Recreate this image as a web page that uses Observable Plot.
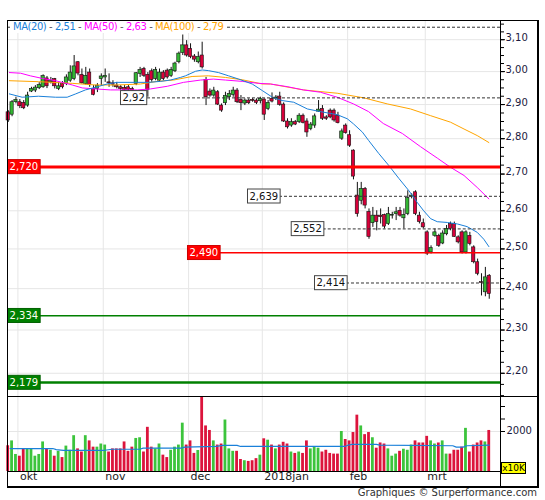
<!DOCTYPE html>
<html><head><meta charset="utf-8">
<script src="https://cdn.jsdelivr.net/npm/d3@7"></script>
<script src="https://cdn.jsdelivr.net/npm/@observablehq/plot@0.6"></script>
<style>
body{margin:0;background:#fff;font-family:"DejaVu Sans",sans-serif;}
#wrap{position:relative;width:545px;height:500px;overflow:hidden;}
#wrap svg{position:absolute;left:0;}
.ln{position:absolute;background:#000;}
#legend{position:absolute;left:12px;top:21px;background:#fff;font-size:10px;line-height:12px;letter-spacing:-0.45px;padding:0 3px 0 1px;white-space:nowrap;}
#caption{position:absolute;right:8px;top:487px;font-size:10px;color:#333;white-space:nowrap;}
#x10k{position:absolute;left:501px;top:462px;width:25px;height:12px;background:#ffff00;border:1px solid #000;box-sizing:border-box;font-size:9px;line-height:10px;text-align:center;color:#000;}
</style></head><body><div id="wrap"></div>
<script>
// ---- data ----
const open = [
2.877,2.870,2.907,2.907,2.905,2.897,2.939,2.942,2.949,2.952,
2.979,2.967,2.977,2.947,2.962,2.962,2.972,2.977,3.029,2.990,
2.962,2.997,2.947,2.947,2.977,2.982,2.967,2.964,2.957,2.952,
2.950,2.952,2.947,2.962,2.993,3.008,2.990,3.001,2.977,2.972,
2.997,3.003,2.987,3.001,3.029,3.058,3.082,3.071,3.047,3.029,
3.050,2.974,2.939,2.927,2.937,2.897,2.904,2.922,2.929,2.942,
2.914,2.903,2.912,2.914,2.912,2.910,2.915,2.887,2.917,2.918,
2.924,2.900,2.850,2.838,2.848,2.848,2.867,2.850,2.828,2.838,
2.879,2.887,2.862,2.882,2.882,2.867,2.800,2.838,2.810,2.766,
2.641,2.627,2.659,2.597,2.567,2.587,2.587,2.589,2.565,2.587,
2.591,2.600,2.580,2.591,2.638,2.650,2.587,2.567,2.543,2.491,
2.534,2.534,2.514,2.538,2.565,2.565,2.530,2.543,2.491,2.534,
2.504,2.466,2.416,2.391,2.432];
const high = [
2.882,2.912,2.922,2.915,2.912,2.937,2.952,2.957,2.966,2.990,
2.985,2.982,2.979,2.967,2.969,2.990,3.018,3.050,3.031,3.008,
3.013,3.008,2.957,2.963,2.993,3.008,2.993,2.972,2.967,2.957,
2.957,2.957,2.952,2.997,3.013,3.013,2.997,3.008,3.013,3.008,
3.003,3.008,3.013,3.029,3.061,3.115,3.097,3.087,3.053,3.061,
3.092,2.982,2.947,2.952,2.942,2.902,2.937,2.942,2.952,2.948,
2.927,2.917,2.917,2.918,2.917,2.922,2.917,2.912,2.935,2.927,
2.937,2.905,2.858,2.858,2.853,2.873,2.872,2.858,2.847,2.872,
2.912,2.897,2.867,2.887,2.887,2.877,2.828,2.843,2.823,2.768,
2.677,2.677,2.663,2.605,2.609,2.600,2.605,2.591,2.609,2.596,
2.609,2.609,2.605,2.654,2.646,2.654,2.596,2.578,2.547,2.508,
2.552,2.538,2.547,2.561,2.570,2.570,2.534,2.547,2.547,2.543,
2.508,2.474,2.437,2.453,2.435];
const low = [
2.847,2.864,2.902,2.888,2.885,2.892,2.936,2.936,2.945,2.949,
2.948,2.962,2.947,2.942,2.947,2.957,2.967,2.972,2.987,2.962,
2.959,2.952,2.926,2.936,2.957,2.967,2.952,2.952,2.947,2.942,
2.937,2.939,2.936,2.957,2.982,2.982,2.922,2.967,2.972,2.967,
2.972,2.977,2.982,2.997,3.024,3.050,3.045,3.040,3.029,3.024,
3.008,2.897,2.922,2.922,2.897,2.877,2.897,2.912,2.922,2.903,
2.882,2.897,2.900,2.907,2.900,2.902,2.853,2.882,2.905,2.912,
2.895,2.847,2.828,2.833,2.838,2.844,2.843,2.804,2.823,2.830,
2.877,2.853,2.853,2.858,2.848,2.843,2.795,2.813,2.775,2.684,
2.583,2.616,2.605,2.525,2.556,2.547,2.565,2.552,2.561,2.578,
2.574,2.583,2.552,2.587,2.632,2.587,2.565,2.552,2.483,2.487,
2.530,2.504,2.511,2.534,2.547,2.530,2.513,2.487,2.487,2.508,
2.462,2.432,2.382,2.380,2.374];
const close = [
2.853,2.907,2.914,2.895,2.889,2.927,2.947,2.951,2.959,2.986,
2.955,2.972,2.955,2.955,2.952,2.982,2.997,3.016,2.994,2.964,
2.987,2.959,2.929,2.957,2.985,2.987,2.964,2.960,2.952,2.947,
2.944,2.944,2.942,2.995,3.005,2.987,2.944,2.974,3.005,2.997,
2.977,2.982,3.005,3.025,3.056,3.082,3.050,3.045,3.037,3.045,
3.013,2.922,2.927,2.942,2.900,2.882,2.926,2.932,2.942,2.907,
2.904,2.912,2.904,2.911,2.905,2.917,2.870,2.905,2.909,2.921,
2.899,2.850,2.833,2.848,2.841,2.867,2.846,2.818,2.841,2.865,
2.885,2.858,2.858,2.862,2.853,2.845,2.821,2.816,2.780,2.693,
2.591,2.659,2.614,2.531,2.587,2.570,2.583,2.558,2.591,2.589,
2.596,2.587,2.589,2.634,2.641,2.591,2.570,2.556,2.488,2.502,
2.543,2.508,2.540,2.552,2.552,2.531,2.517,2.491,2.543,2.513,
2.466,2.437,2.414,2.428,2.387];
const volume = [
1287,1530,852,765,1130,1130,1130,765,852,1478,
1130,1061,765,1009,696,1270,1061,1791,1130,974,
1791,1530,1217,1217,1374,1322,974,1130,1130,1130,
1478,1009,1217,1652,1687,974,2209,1217,1130,1374,
817,696,1061,1217,1322,2417,1322,1530,904,1050,
3740,2278,2052,1530,1322,1374,2574,1130,1009,1009,
600,539,504,539,643,817,1635,1565,1322,1130,
1322,1461,1374,974,904,974,904,1530,1130,1217,
1165,974,1061,904,870,870,2000,1600,1530,1948,
2817,2278,1843,1948,1687,1165,1426,1374,1130,765,
870,1009,1113,1061,1322,1530,1426,1426,1757,1530,
1374,1426,1530,870,870,1061,1061,1217,2157,974,
1322,1426,1530,1478,2052];

const ma20Idx = [0.3,3.6,7.8,12.2,15.2,17.4,19.9,22.5,25.5,28.1,33.3,36.2,39.3,41.8,44.4,45.7,48.3,50.0,51.6,54.2,56.8,59.4,62.9,65.5,68.1,70.6,73.6,77.1,80.5,84.8,87.4,89.0,91.3,92.9,95.5,98.1,100.7,103.3,105.4,107.1,108.9,110.6,113.2,115.8,118.3,120.9,122.6,123.9];
const ma20Val = [2.932,2.922,2.925,2.922,2.922,2.932,2.944,2.952,2.962,2.967,2.967,2.967,2.970,2.974,2.982,2.987,3.001,3.005,3.003,2.997,2.987,2.977,2.962,2.942,2.922,2.912,2.907,2.887,2.879,2.870,2.858,2.843,2.819,2.795,2.758,2.724,2.688,2.654,2.623,2.600,2.579,2.571,2.569,2.565,2.558,2.543,2.525,2.506];
const ma50Idx = [0.3,3.2,5.7,8.8,12.2,16.5,19.1,22.5,26.4,33.3,36.7,41.0,45.2,49.6,52.9,56.0,60.3,64.5,67.6,71.9,76.1,80.5,84.8,89.0,92.9,96.7,101.6,106.3,110.7,114.0,117.5,120.9,123.9];
const ma50Val = [2.997,2.995,2.987,2.979,2.972,2.959,2.950,2.947,2.944,2.944,2.947,2.955,2.967,2.974,2.977,2.974,2.970,2.964,2.962,2.954,2.944,2.937,2.922,2.902,2.879,2.844,2.815,2.777,2.744,2.719,2.696,2.663,2.632];
const ma100Idx = [0.3,7.8,16.5,22.5,28.1,34.1,38.4,42.6,47.4,51.6,56.0,60.3,65.5,67.6,76.1,84.8,91.7,97.7,103.7,108.9,114.0,117.5,120.9,123.9];
const ma100Val = [2.972,2.969,2.964,2.959,2.959,2.962,2.970,2.974,2.985,2.987,2.982,2.975,2.962,2.962,2.944,2.934,2.920,2.902,2.887,2.867,2.848,2.828,2.809,2.789];
const volMaIdx = [0.5,11.5,12.4,14.2,24.9,26.7,33.9,34.8,44.6,45.5,53.6,55.4,59.0,59.9,86.8,87.7,88.6,94.9,95.8,114.6,115.5,117.3,118.2,124.0];
const volMaVal = [1148,1148,1096,1061,1061,1113,1113,1165,1165,1217,1252,1304,1304,1252,1252,1322,1356,1356,1322,1287,1217,1217,1287,1322];

const monthLabels = ["okt","nov","dec","2018jan","feb","mrt"];
const monthStartIdx = [3,25,47,66,88,108];
const yTicks = [2.2,2.3,2.4,2.5,2.6,2.7,2.8,2.9,3.0,3.1];
const volTickLabels = [2000];
const greyLevels = [3.14,2.92,2.639,2.552,2.414];
const greyLabels = ["3,14","2,92","2,639","2,552","2,414"];
const redLevels = [2.720,2.490];
const redLabels = ["2,720","2,490"];
const greenLevels = [2.334,2.179];
const greenLabels = ["2,334","2,179"];
const legendItems = [["MA(20)","2,51","#1a80d9"],["MA(50)","2,63","#ff00ff"],["MA(100)","2,79","#ffa500"]];

// ---- rendering ----
const xMin = -0.18, xMax = 126.9;
const cRed = "#d8003a", cGreen = "#33b633", vRed = "#dc143c", vGreen = "#3cc43c";
const candles = open.map((o,i)=>({i,o,h:high[i],l:low[i],c:close[i],v:volume[i],up:close[i]>=o}));
const pts = (ix,vs)=>ix.map((x,k)=>({x,y:vs[k]}));
const fmt = d=>d.toFixed(2).replace(".",",");
const minorTicks = d3.range(2.15,3.16,0.025);
// label positions (x index where each level label starts)
const greyAt = [xMin, 29.46, 62.2, 73.47, 79.47];
const redAt = [0.34, 46.73];
const greenAt = [0.34, 0.34];

const wrap = document.getElementById("wrap");
const fontStyle = {fontFamily:"DejaVu Sans, sans-serif", fontSize:"10px", background:"transparent", overflow:"visible"};

const main = Plot.plot({
  width:545, height:396, marginTop:20, marginBottom:0, marginLeft:7, marginRight:45,
  style: fontStyle,
  x:{domain:[xMin,xMax], axis:null},
  y:{type:"log", domain:[2.1481,3.1618], axis:null},
  marks:[
    Plot.ruleY(yTicks,{y:d=>d, stroke:"#e6e6e6"}),
    Plot.ruleX(monthStartIdx,{x:d=>d-0.5, stroke:"#e6e6e6"}),
    Plot.ruleX(candles,{x:"i", y1:"l", y2:"h", stroke:"#111", strokeWidth:1}),
    Plot.rect(candles,{x1:d=>d.i-0.42, x2:d=>d.i+0.42, y1:"o", y2:"c", fill:d=>d.up?cGreen:cRed, stroke:"#111", strokeWidth:0.6}),
    Plot.line(pts(ma100Idx,ma100Val),{x:"x",y:"y",stroke:"#ffa500",strokeWidth:1}),
    Plot.line(pts(ma50Idx,ma50Val),{x:"x",y:"y",stroke:"#ff00ff",strokeWidth:1}),
    Plot.line(pts(ma20Idx,ma20Val),{x:"x",y:"y",stroke:"#1a80d9",strokeWidth:1}),
    Plot.ruleY(greyLevels,{y:d=>d, x1:(d,k)=>greyAt[k], x2:()=>xMax, stroke:"#333", strokeDasharray:"3,2"}),
    Plot.ruleY([redLevels[0]],{y:d=>d, x1:()=>xMin, x2:()=>xMax, stroke:"#ff0000", strokeWidth:3}),
    Plot.ruleY([redLevels[1]],{y:d=>d, x1:()=>redAt[1], x2:()=>xMax, stroke:"#ff0000", strokeWidth:1.5}),
    Plot.ruleY([greenLevels[0]],{y:d=>d, x1:()=>xMin, x2:()=>xMax, stroke:"#008000", strokeWidth:1.5}),
    Plot.ruleY([greenLevels[1]],{y:d=>d, x1:()=>xMin, x2:()=>xMax, stroke:"#008000", strokeWidth:2.5}),
    Plot.text(greyLevels.slice(1),{y:d=>d, x:(d,k)=>greyAt[k+1], text:(d,k)=>greyLabels[k+1], textAnchor:"start", fill:"#111", fontSize:10}),
    Plot.text(redLevels,{y:d=>d, x:(d,k)=>redAt[k], text:(d,k)=>redLabels[k], textAnchor:"start", fill:"#ffffff", fontSize:10}),
    Plot.text(greenLevels,{y:d=>d, x:(d,k)=>greenAt[k], text:(d,k)=>greenLabels[k], textAnchor:"start", fill:"#fffff0", fontSize:10}),
    Plot.axisY({anchor:"right", ticks:minorTicks, tickSize:3, tickFormat:()=>"", color:"#000"}),
    Plot.axisY({anchor:"right", ticks:yTicks, tickSize:4, tickFormat:()=>"", color:"#000"}),
    Plot.text(yTicks,{x:()=>xMax, y:d=>d, text:fmt, dx:5, dy:-2, textAnchor:"start", fill:"#1a1a40", fontSize:10})
  ]
});
main.style.top = "0px";
wrap.appendChild(main);

const vol = Plot.plot({
  width:545, height:91, marginTop:0, marginBottom:16, marginLeft:7, marginRight:45,
  style: fontStyle,
  x:{domain:[xMin,xMax], axis:null},
  y:{domain:[0,3750], axis:null},
  marks:[
    Plot.ruleX(monthStartIdx,{x:d=>d-0.5, stroke:"#e6e6e6"}),
    Plot.ruleY(volTickLabels,{y:d=>d, stroke:"#e6e6e6"}),
    Plot.rect(candles,{x1:d=>d.i-0.36, x2:d=>d.i+0.36, y1:()=>0, y2:"v", fill:d=>d.up?vGreen:vRed}),
    Plot.line(pts(volMaIdx,volMaVal),{x:"x",y:"y",stroke:"#1a80d9",strokeWidth:1.2}),
    Plot.axisY({anchor:"right", ticks:[2000,2625,3250], tickSize:4, tickFormat:()=>"", color:"#000"}),
    Plot.text(volTickLabels,{x:()=>xMax, y:d=>d, text:d=>String(d), dx:6, dy:-1, textAnchor:"start", fill:"#1a1a40", fontSize:10}),
    Plot.text(monthLabels,{x:(d,k)=>monthStartIdx[k]-0.5, text:d=>d, frameAnchor:"bottom", dy:8, dx:2, textAnchor:"start", fill:"#222", fontSize:11})
  ]
});
vol.style.top = "396px";
wrap.appendChild(vol);

// label boxes behind level labels (found by their text)
const NS = "http://www.w3.org/2000/svg";
const boxStyle = {};
greyLabels.slice(1).forEach(s=>boxStyle[s]=["#ffffff","#444444"]);
redLabels.forEach(s=>boxStyle[s]=["#ff0000","#cc0000"]);
greenLabels.forEach(s=>boxStyle[s]=["#008000","#006000"]);
Array.from(main.querySelectorAll("text")).forEach(t=>{
  const st = boxStyle[t.textContent];
  if(!st) return;
  const b = t.getBBox();
  const r = document.createElementNS(NS,"rect");
  r.setAttribute("x", b.x-2); r.setAttribute("y", b.y-1.5);
  r.setAttribute("width", b.width+4); r.setAttribute("height", b.height+3);
  r.setAttribute("fill", st[0]); r.setAttribute("stroke", st[1]); r.setAttribute("stroke-width", 1);
  if (t.getAttribute("transform")) r.setAttribute("transform", t.getAttribute("transform"));
  t.parentNode.insertBefore(r, t);
});

// frame lines
function line(l,t,w,h){const d=document.createElement("div");d.className="ln";d.style.cssText+=`left:${l}px;top:${t}px;width:${w}px;height:${h}px;`;wrap.appendChild(d);}
line(7,19.5,531,1.5);   // top
line(7,486,531,1.5);    // bottom
line(6.5,19.5,1.5,468); // left
line(537,19.5,1.5,468); // right
line(7,395.5,531,1.5);  // panel separator
line(7,470.5,493,1);    // volume baseline
line(499.5,20,1,467);   // axis line

// legend
const lg = document.createElement("div"); lg.id="legend";
lg.innerHTML = legendItems.map(([n,v,c])=>`<span style="color:${c}">${n}</span><span style="color:#556"> - </span><span style="color:${c}">${v}</span>`).join('<span style="color:#556"> - </span>');
wrap.appendChild(lg);

const xk = document.createElement("div"); xk.id="x10k"; xk.textContent="x10K"; wrap.appendChild(xk);
const cap = document.createElement("div"); cap.id="caption"; cap.textContent="Graphiques © Surperformance.com"; wrap.appendChild(cap);
</script></body></html>
